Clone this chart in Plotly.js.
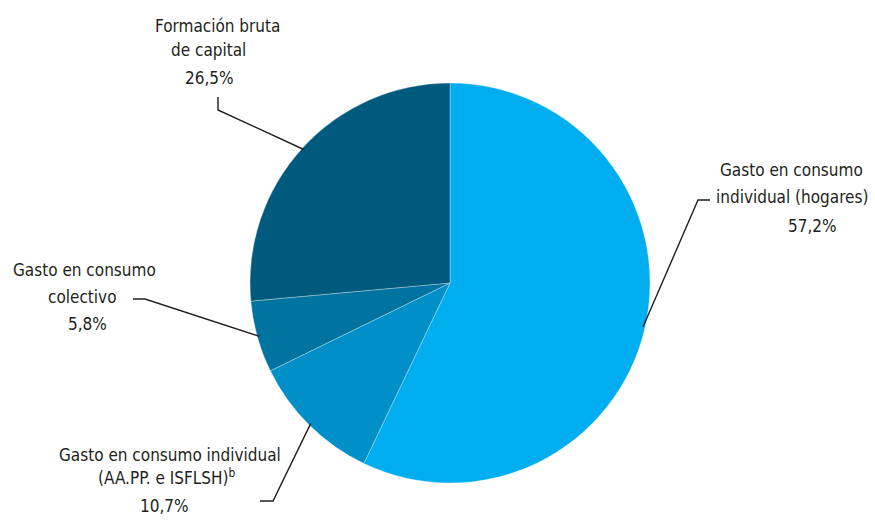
<!DOCTYPE html>
<html>
<head>
<meta charset="utf-8">
<script src="https://cdn.plot.ly/plotly-3.0.1.min.js"></script>
<style>html,body{margin:0;padding:0;background:#fff;}#chart{width:875px;height:521px;}</style>
</head>
<body>
<div id="chart"></div>
<script>
// Data
const categories = [
  "Gasto en consumo individual (hogares)",
  "Gasto en consumo individual (AA.PP. e ISFLSH)",
  "Gasto en consumo colectivo",
  "Formación bruta de capital"
];
const values = [57.2, 10.7, 5.8, 26.5];
const percentLabels = ["57,2%", "10,7%", "5,8%", "26,5%"];
const colors = ["#00AEEF", "#008FC9", "#0073A1", "#005A7E"];

// Label layout (pixel positions of text lines and leader elbows)
const W = 875, H = 521;
const cx = 450, cy = 283, R = 200;
const labelLines = [
  [ {t:"Gasto en consumo", x:791, y:170}, {t:"individual (hogares)", x:792, y:197}, {t:percentLabels[0], x:812, y:226} ],
  [ {t:"Gasto en consumo individual", x:170, y:455}, {t:"(AA.PP. e ISFLSH)<sup>b</sup>", x:166, y:477}, {t:percentLabels[1], x:164, y:506} ],
  [ {t:"Gasto en consumo", x:84, y:270}, {t:"colectivo", x:82, y:297}, {t:percentLabels[2], x:87, y:324} ],
  [ {t:"Formación bruta", x:217, y:26}, {t:"de capital", x:208, y:50}, {t:percentLabels[3], x:209, y:78} ]
];
// elbow: [end of short segment, elbow point]
const elbows = [
  [[710,200],[698,200]],
  [[260,501],[273,501]],
  [[133,299],[145,299]],
  [[218,97],[218,110]]
];

const px = x => x / W;
const py = y => 1 - y / H;

const total = values.reduce((a,b)=>a+b,0);
let cum = 0;
const shapes = [];
values.forEach((v,i) => {
  const mid = (cum + v/2) / total * 2 * Math.PI;
  cum += v;
  const ex = cx + (R-2) * Math.sin(mid);
  const ey = cy - (R-2) * Math.cos(mid);
  const [a,b] = elbows[i];
  shapes.push({type:'path', xref:'paper', yref:'paper',
    path:`M ${px(a[0])} ${py(a[1])} L ${px(b[0])} ${py(b[1])} L ${px(ex)} ${py(ey)}`,
    line:{color:'#231F20', width:1.4}});
});

const annotations = [];
labelLines.forEach(lines => lines.forEach(l => {
  annotations.push({x:px(l.x), y:py(l.y), xref:'paper', yref:'paper', text:l.t,
    showarrow:false, xanchor:'center', yanchor:'middle',
    font:{family:'"DejaVu Sans Condensed", "Liberation Sans Narrow", Arial, sans-serif', size:17, color:'#231F20'}});
}));

const trace = {
  type:'pie', values:values, labels:categories, sort:false, direction:'clockwise', rotation:0,
  marker:{colors:colors, line:{color:'rgba(255,255,255,0.5)', width:0.6}},
  textinfo:'none', hoverinfo:'label+percent', showlegend:false,
  domain:{x:[px(cx-R), px(cx+R)], y:[py(cy+R), py(cy-R)]}
};

Plotly.newPlot('chart', [trace], {
  width:W, height:H, margin:{l:0,r:0,t:0,b:0},
  paper_bgcolor:'#ffffff', showlegend:false,
  shapes:shapes, annotations:annotations
}, {displayModeBar:false, staticPlot:true});
</script>
</body>
</html>
